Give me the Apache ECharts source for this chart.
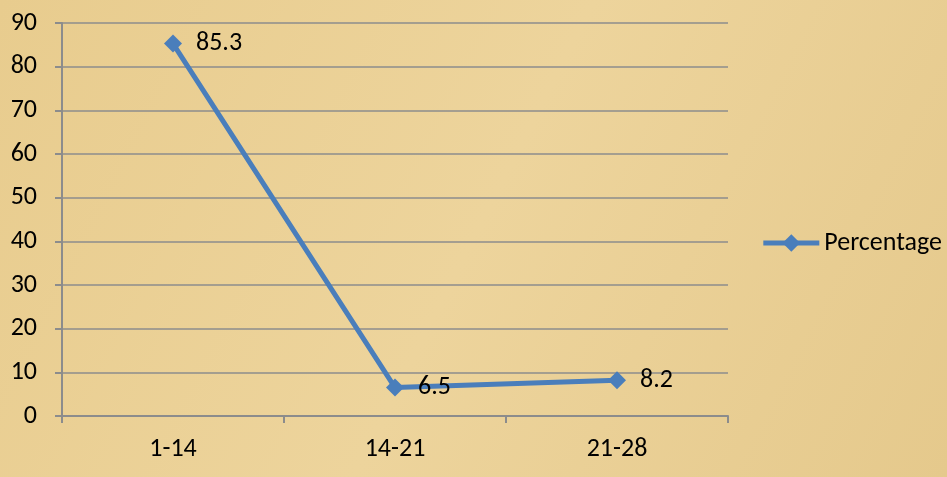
<!DOCTYPE html>
<html>
<head>
<meta charset="utf-8">
<script src="https://cdn.jsdelivr.net/npm/echarts@6/dist/echarts.min.js"></script>
<style>
html, body { margin: 0; padding: 0; }
#main { width: 947px; height: 477px; }
</style>
</head>
<body>
<div id="main"></div>
<script>
// 数据
var categories = ['1-14', '14-21', '21-28'];
var percentage = [85.3, 6.5, 8.2];
var yTicks = [0, 10, 20, 30, 40, 50, 60, 70, 80, 90];

var chart = echarts.init(document.getElementById('main'));
var font = 'Carlito, Lato, sans-serif';
var option = {
    backgroundColor: {
        type: 'linear', x: 0, y: 0, x2: 1, y2: 1,
        colorStops: [
            {offset: 0, color: '#e8cc8e'},
            {offset: 0.5, color: '#edd49c'},
            {offset: 1, color: '#e5c98c'}
        ]
    },
    textStyle: {fontFamily: font},
    grid: {left: 62, right: 219, top: 23, bottom: 61},
    legend: {
        data: ['Percentage'],
        right: 0,
        top: 225,
        itemWidth: 56,
        itemHeight: 22,
        itemGap: 4,
        lineStyle: {width: 5},
        textStyle: {fontSize: 26, color: '#000', fontFamily: font}
    },
    xAxis: {
        type: 'category',
        data: categories,
        axisLine: {lineStyle: {color: '#8c8c8c', width: 2}},
        axisTick: {show: true, length: 7, lineStyle: {color: '#8c8c8c', width: 2}},
        axisLabel: {fontSize: 26, color: '#000', margin: 20}
    },
    yAxis: {
        type: 'value',
        min: yTicks[0],
        max: yTicks[yTicks.length - 1],
        interval: 10,
        axisLine: {show: true, lineStyle: {color: '#8c8c8c', width: 2}},
        axisTick: {show: true, length: 7, lineStyle: {color: '#8c8c8c', width: 2}},
        axisLabel: {fontSize: 26, color: '#000', margin: 25},
        splitLine: {lineStyle: {color: '#8c8c8c', width: 1.5}}
    },
    series: [{
        name: 'Percentage',
        type: 'line',
        data: percentage,
        symbol: 'diamond',
        symbolSize: 18,
        itemStyle: {color: '#4a7ebb'},
        lineStyle: {color: '#4a7ebb', width: 5},
        label: {
            show: true,
            position: 'right',
            distance: 14,
            fontSize: 26,
            color: '#000',
            fontFamily: font
        },
        animation: false
    }]
};
chart.setOption(option);
</script>
</body>
</html>
